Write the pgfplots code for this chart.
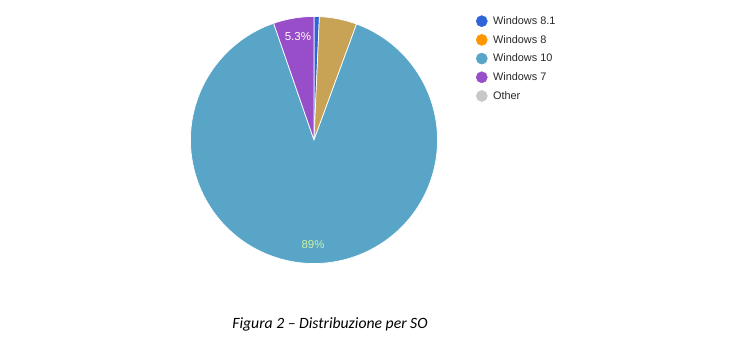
\documentclass[border=0pt]{standalone}
\usepackage{pgfplots}
\pgfplotsset{compat=1.18}
\usepackage{pgfplotstable}
\usepackage{fontspec}
\setmainfont{Liberation Sans}
\newfontfamily\carlito{Carlito}
\definecolor{c81}{RGB}{45,100,215}
\definecolor{c8}{RGB}{255,150,0}
\definecolor{c8slice}{RGB}{200,162,85}
\definecolor{c10}{RGB}{88,165,200}
\definecolor{c7}{RGB}{152,78,200}
\definecolor{cother}{RGB}{200,200,200}
\definecolor{labgreen}{RGB}{205,240,165}
\definecolor{legtext}{RGB}{40,40,40}

% share (%) of each slice, clockwise from 12 o'clock
\pgfplotstableread{
name value col
W81 0.7 c81
W8 4.9 c8slice
W10 89.1 c10
W7 5.3 c7
}\piedata

\newcommand\R{123.5pt}

\begin{document}
\begin{tikzpicture}
\useasboundingbox (0,0) rectangle (740pt,356pt);
\begin{axis}[
  at={(314pt,216pt)}, anchor=origin,
  x=123.5pt, y=123.5pt,
  xmin=-1, xmax=1, ymin=-1, ymax=1,
  hide axis, clip=false,
  legend style={draw=none, fill=none, at={(axis cs:1.31,1.018)}, anchor=north west,
    font=\fontsize{10.9}{12}\selectfont, text=legtext, row sep=5.3pt, inner sep=0pt,
    cells={anchor=west},
    /tikz/every odd column/.append style={column sep=3.5pt}},
  legend image code/.code={\fill[#1] (0pt,0pt) circle (5.6pt);},
]
\pgfplotstablegetrowsof{\piedata}
\pgfmathtruncatemacro\nrows{\pgfplotsretval-1}
\def\curang{90}
\pgfplotsforeachungrouped \i in {0,...,\nrows}{%
  \pgfplotstablegetelem{\i}{value}\of\piedata
  \let\val\pgfplotsretval
  \pgfplotstablegetelem{\i}{col}\of\piedata
  \let\col\pgfplotsretval
  \pgfmathsetmacro\endang{\curang-3.6*\val}%
  \edef\temp{\noexpand\fill[\col, draw=white, line width=0.7pt, line join=round]
    (axis cs:0,0) -- (axis cs:{cos(\curang)},{sin(\curang)})
    arc[start angle=\curang, end angle=\endang, radius=\R] -- cycle;}%
  \temp
  \global\let\curang\endang
}
\node[white, font=\fontsize{11.5}{12}\selectfont] at (axis cs:-0.13,0.835) {5.3\%};
\node[labgreen, font=\fontsize{11.5}{12}\selectfont] at (axis cs:-0.008,-0.85) {89\%};
\addlegendimage{c81}\addlegendentry{Windows 8.1}
\addlegendimage{c8}\addlegendentry{Windows 8}
\addlegendimage{c10}\addlegendentry{Windows 10}
\addlegendimage{c7}\addlegendentry{Windows 7}
\addlegendimage{cother}\addlegendentry{Other}
\end{axis}
\node[font=\carlito\itshape\fontsize{15.7}{17}\selectfont, text=black] at (330pt,32pt) {Figura 2 – Distribuzione per SO};
\end{tikzpicture}
\end{document}
